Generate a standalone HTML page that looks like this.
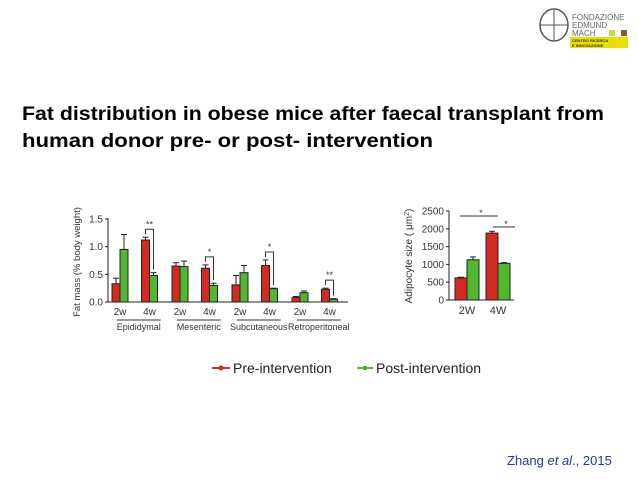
<!DOCTYPE html>
<html><head><meta charset="utf-8">
<style>
html,body{margin:0;padding:0;background:#fff;}
svg{display:block;font-family:"Liberation Sans",Arial,sans-serif;}
</style></head>
<body>
<svg width="638" height="479" viewBox="0 0 638 479">
  <g>
    <ellipse cx="554" cy="25" rx="14" ry="16" fill="none" stroke="#555" stroke-width="1.5"/>
    <line x1="554" y1="10" x2="554" y2="40" stroke="#555"/>
    <line x1="540" y1="25" x2="568" y2="25" stroke="#555"/>
    <text x="572" y="20" font-size="8" fill="#666">FONDAZIONE</text>
    <text x="572" y="28" font-size="8" fill="#666">EDMUND</text>
    <text x="572" y="36" font-size="8" fill="#666">MACH</text>
    <rect x="609" y="30" width="6" height="6" fill="#c8d64a"/>
    <rect x="621" y="30" width="6" height="6" fill="#8a5a2b"/>
    <rect x="570" y="37" width="58" height="11" fill="#e8e000"/>
    <text x="572" y="42" font-size="4" font-weight="bold" fill="#333">CENTRO RICERCA</text>
    <text x="572" y="47" font-size="4" font-weight="bold" fill="#333">E INNOVAZIONE</text>
  </g>
  <text x="22" y="120" font-size="19" font-weight="bold" textLength="582" lengthAdjust="spacingAndGlyphs">Fat distribution in obese mice after faecal transplant from</text>
  <text x="22" y="147" font-size="19" font-weight="bold" textLength="411" lengthAdjust="spacingAndGlyphs">human donor pre- or post- intervention</text>

  <g id="left"></g>
  <g id="right"></g>

  <g>
    <g>
      <line x1="212" y1="368" x2="230" y2="368" stroke="#d42a20" stroke-width="2"/>
      <circle cx="221" cy="368" r="2.5" fill="#d42a20"/>
      <text x="233" y="373" font-size="14" fill="#222">Pre-intervention</text>
    </g>
    <g>
      <line x1="357" y1="368" x2="373" y2="368" stroke="#4fb830" stroke-width="2"/>
      <rect x="363" y="366" width="4" height="4" fill="#4fb830"/>
      <text x="376" y="373" font-size="14" fill="#222">Post-intervention</text>
    </g>
  </g>
  <text x="507" y="465" font-size="13" fill="#1f3d8a">Zhang <tspan font-style="italic">et al</tspan>., 2015</text>
</svg>
<script>
const NS='http://www.w3.org/2000/svg';
const RED='#d42a20', GREEN='#4fb830';
// left chart data
const groups=['Epididymal','Mesenteric','Subcutaneous','Retroperitoneal'];
const times=['2w','4w'];
const preVals=[0.33,1.12,0.65,0.61,0.31,0.66,0.08,0.23];
const preErr=[0.10,0.05,0.06,0.06,0.17,0.10,0.02,0.02];
const postVals=[0.95,0.48,0.64,0.30,0.53,0.24,0.17,0.05];
const postErr=[0.27,0.05,0.10,0.04,0.13,0.01,0.03,0.01];
const leftTicks=[0,0.5,1.0,1.5];
const leftTickLabels=['0.0','0.5','1.0','1.5'];
const leftSig=['','**','','*','','*','','**'];
// right chart data
const rCats=['2W','4W'];
const rPre=[620,1880];
const rPreErr=[20,50];
const rPost=[1130,1030];
const rPostErr=[80,20];
const rTicks=[0,500,1000,1500,2000,2500];

function mk(tag,attrs,parent,name){const e=document.createElementNS(NS,tag);for(const k in attrs)e.setAttribute(k,attrs[k]);parent.appendChild(e);return e;}

function bar(parent,x,w,y0,yv,ye,col,name){
  mk('rect',{x:x,y:yv,width:w,height:y0-yv,fill:col,stroke:'#222','stroke-width':1},parent,name);
  mk('line',{x1:x+w/2,y1:yv,x2:x+w/2,y2:ye,stroke:'#222','stroke-width':1},parent,name+'-error');
  mk('line',{x1:x+w/2-3,y1:ye,x2:x+w/2+3,y2:ye,stroke:'#222','stroke-width':1},parent,name+'-error-cap');
}

// Left
(function(){
  const g=document.getElementById('left');
  const x0=108,y0=302,yTop=219,vMax=1.5;
  const ys=v=>y0-(v/vMax)*(y0-yTop);
  const bw=8;
  const xs=i=>112+Math.floor(i/2)*60+(i%2)*29.5;
  mk('line',{x1:x0,y1:yTop-1,x2:x0,y2:y0,stroke:'#222'},g,'y-axis');
  mk('line',{x1:x0,y1:y0,x2:348,y2:y0,stroke:'#222'},g,'x-axis');
  leftTicks.forEach((t,i)=>{
    mk('line',{x1:x0-3,y1:ys(t),x2:x0,y2:ys(t),stroke:'#222'},g,'y-tick');
    const tx=mk('text',{x:x0-5,y:ys(t)+3.5,'font-size':10,'text-anchor':'end',fill:'#333'},g,'y-tick-label');tx.textContent=leftTickLabels[i];
  });
  const yt=mk('text',{transform:'translate(80,262) rotate(-90)','font-size':9.5,'text-anchor':'middle',fill:'#333'},g,'y-axis-title');yt.textContent='Fat mass (% body weight)';
  preVals.forEach((v,i)=>{
    const x=xs(i);
    bar(g,x,bw,y0,ys(preVals[i]),ys(preVals[i]+preErr[i]),RED,'bar-pre-'+i);
    bar(g,x+bw,bw,y0,ys(postVals[i]),ys(postVals[i]+postErr[i]),GREEN,'bar-post-'+i);
    const l=mk('text',{x:x+bw,y:315,'font-size':10,'text-anchor':'middle',fill:'#333'},g,'x-tick-label');l.textContent=times[i%2];
    if(leftSig[i]){
      const top=ys(Math.max(preVals[i]+preErr[i],postVals[i]+postErr[i]))-8;
      const p=mk('path',{d:`M${x+4} ${ys(preVals[i]+preErr[i])-3} V${top} H${x+12} V${ys(postVals[i]+postErr[i])-3}`,fill:'none',stroke:'#333'},g,'significance-bracket');
      const s=mk('text',{x:x+8,y:top-2,'font-size':9,'text-anchor':'middle',fill:'#333'},g,'significance-mark');s.textContent=leftSig[i];
    }
  });
  groups.forEach((n,k)=>{
    const cx=112+k*60+8+29.5/2+4;
    mk('line',{x1:cx-22,y1:320,x2:cx+22,y2:320,stroke:'#333'},g,'group-line');
    const t=mk('text',{x:cx,y:330,'font-size':9,'text-anchor':'middle',fill:'#333'},g,'group-label');t.textContent=n;
  });
})();

// Right
(function(){
  const g=document.getElementById('right');
  const x0=449,y0=300,yTop=211,vMax=2500;
  const ys=v=>y0-(v/vMax)*(y0-yTop);
  const bw=12;
  mk('line',{x1:x0,y1:yTop,x2:x0,y2:y0,stroke:'#222'},g,'y-axis');
  mk('line',{x1:x0,y1:y0,x2:514,y2:y0,stroke:'#222'},g,'x-axis');
  rTicks.forEach(t=>{
    mk('line',{x1:x0-3,y1:ys(t),x2:x0,y2:ys(t),stroke:'#222'},g,'y-tick');
    const tx=mk('text',{x:x0-5,y:ys(t)+3.5,'font-size':10,'text-anchor':'end',fill:'#333'},g,'y-tick-label');tx.textContent=t;
  });
  const yt=mk('text',{transform:'translate(412,256) rotate(-90)','font-size':10,'text-anchor':'middle',fill:'#333'},g,'y-axis-title');yt.innerHTML='Adipocyte size ( μm<tspan baseline-shift="super" font-size="7">2</tspan>)';
  rCats.forEach((c,i)=>{
    const x=455+i*31;
    bar(g,x,bw,y0,ys(rPre[i]),ys(rPre[i]+rPreErr[i]),RED,'bar-pre-'+c);
    bar(g,x+bw,bw,y0,ys(rPost[i]),ys(rPost[i]+rPostErr[i]),GREEN,'bar-post-'+c);
    const l=mk('text',{x:x+bw,y:314,'font-size':11,'text-anchor':'middle',fill:'#333'},g,'x-tick-label');l.textContent=c;
  });
  mk('line',{x1:460,y1:216,x2:498,y2:216,stroke:'#333'},g,'significance-line');
  const s1=mk('text',{x:481,y:216,'font-size':9,'text-anchor':'middle',fill:'#333'},g,'significance-mark');s1.textContent='*';
  mk('line',{x1:493,y1:227,x2:515,y2:227,stroke:'#333'},g,'significance-line');
  const s2=mk('text',{x:506,y:227,'font-size':9,'text-anchor':'middle',fill:'#333'},g,'significance-mark');s2.textContent='*';
})();
</script>
</body></html>
